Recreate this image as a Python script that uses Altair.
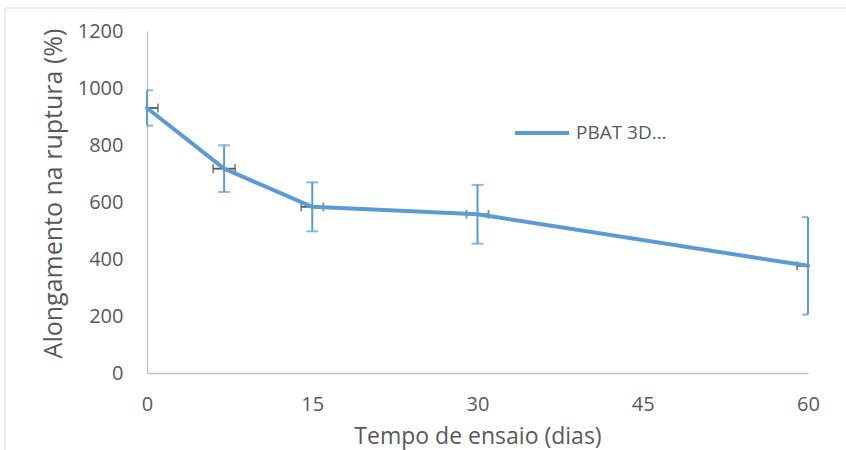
import altair as alt
import pandas as pd

# Data
dias = [0, 7, 15, 30, 60]
alongamento = [930, 717, 583, 557, 376]
erro_y = [62, 82, 86, 103, 171]
erro_x = [1, 1, 1, 1, 1]
serie = "PBAT 3D…"

x_ticks = [0, 15, 30, 45, 60]
y_ticks = [0, 200, 400, 600, 800, 1000, 1200]

df = pd.DataFrame({"dias": dias, "along": alongamento, "ey": erro_y, "ex": erro_x})
df["y_lo"] = df["along"] - df["ey"]
df["y_hi"] = df["along"] + df["ey"]
df["x_lo"] = df["dias"] - df["ex"]
df["x_hi"] = df["dias"] + df["ex"]
df["serie"] = serie

FONT = "Open Sans"
TXT = "#595959"
BLUE = "#5B9BD5"
GRAYBAR = "#595959"

xs = alt.Scale(domain=[0, 60], nice=False, zero=False)
ys = alt.Scale(domain=[0, 1200], nice=False)

base = alt.Chart(df)

x_enc = alt.X("dias:Q", scale=xs, axis=alt.Axis(
    values=x_ticks, title="Tempo de ensaio (dias)", labelPadding=21, labelFlush=False,
    format="d", titleY=70, titleBaseline="alphabetic", titleFontSize=23, labelFontSize=20))
y_enc = alt.Y("along:Q", scale=ys, axis=alt.Axis(
    values=y_ticks, title="Alongamento na ruptura (%)", labelPadding=24, format="d",
    titleX=-86, titleY=162, titleBaseline="alphabetic", titleAlign="center",
    titleFontSize=25, labelFontSize=20))

yerr = base.mark_rule(color=BLUE, strokeWidth=2, clip=False).encode(
    x=alt.X("dias:Q", scale=xs), y=alt.Y("y_lo:Q", scale=ys), y2="y_hi:Q")
ycap_hi = base.mark_tick(color=BLUE, thickness=2, size=12, orient="horizontal", clip=True).encode(
    x=alt.X("dias:Q", scale=xs), y=alt.Y("y_hi:Q", scale=ys))
ycap_lo = base.mark_tick(color=BLUE, thickness=2, size=12, orient="horizontal", clip=True).encode(
    x=alt.X("dias:Q", scale=xs), y=alt.Y("y_lo:Q", scale=ys))

xerr = base.mark_rule(color=GRAYBAR, strokeWidth=1.8, clip=True).encode(
    x=alt.X("x_lo:Q", scale=xs), x2="x_hi:Q", y=alt.Y("along:Q", scale=ys))
xcap_lo = base.mark_tick(color=GRAYBAR, thickness=1.8, size=9, orient="vertical", clip=True).encode(
    x=alt.X("x_lo:Q", scale=xs), y=alt.Y("along:Q", scale=ys))
xcap_hi = base.mark_tick(color=GRAYBAR, thickness=1.8, size=9, orient="vertical", clip=True).encode(
    x=alt.X("x_hi:Q", scale=xs), y=alt.Y("along:Q", scale=ys))

line = base.mark_line(strokeWidth=4, strokeCap="round", strokeJoin="round").encode(
    x=x_enc, y=y_enc,
    color=alt.Color("serie:N", scale=alt.Scale(domain=[serie], range=[BLUE]),
                    legend=alt.Legend(title=None, orient="none", legendX=366, legendY=73,
                                      symbolType="stroke", symbolSize=2916,
                                      symbolStrokeWidth=4, labelFontSize=19,
                                      labelColor=TXT, labelOffset=5, padding=0,
                                      labelFont=FONT)))

frame = alt.Chart(pd.DataFrame({"a": [0]})).mark_rect(
    fill=None, stroke="#D9D9D9", strokeWidth=1, clip=False).encode(
    x=alt.value(-142), x2=alt.value(720), y=alt.value(-23), y2=alt.value(440))

chart = alt.layer(frame, yerr, ycap_hi, ycap_lo, xerr, xcap_lo, xcap_hi, line).properties(
    width=661, height=342,
    padding={"left": 147, "top": 31, "right": 38, "bottom": 77},
    autosize=alt.AutoSizeParams(type="none"),
    background="white",
).configure_view(stroke=None).configure_axis(
    grid=False, ticks=False, domainColor="#BFBFBF", domainWidth=1.3,
    labelColor=TXT, titleColor=TXT, labelFont=FONT, titleFont=FONT,
    titleFontWeight="normal",
).configure_legend(labelFont=FONT)

chart.save("out.html", embed_options={"renderer": "svg", "actions": False})
